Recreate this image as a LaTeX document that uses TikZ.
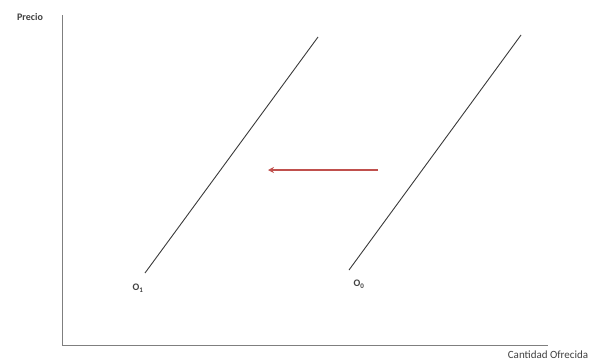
\documentclass[tikz,border=0pt]{standalone}
\usepackage{fontspec}
\setmainfont{Carlito}
\usetikzlibrary{arrows.meta}
\definecolor{caxis}{HTML}{7F7F7F}
\definecolor{ccurve}{HTML}{3A3A3A}
\definecolor{cshift}{HTML}{C0504D}
\tikzset{
  every picture/.style={line width=0.8pt},
  axis/.style={draw=caxis, line width=1pt},
  curve/.style={draw=ccurve, line width=0.9pt},
  shiftarrow/.style={-{Stealth[length=6pt, width=6pt]}, draw=cshift, line width=1.2pt},
  lab/.style={font=\fontsize{11}{13}\selectfont, text=black!75, inner sep=0pt},
  blab/.style={lab, font=\fontsize{10}{12}\selectfont\bfseries},
}
\begin{document}
\begin{tikzpicture}[x=1pt, y=-1pt]
  \useasboundingbox (0,0) rectangle (604,362);
  % axes
  \coordinate (O) at (62,345);
  \coordinate (ytop) at (62,15);
  \coordinate (xend) at (548,345);
  \draw[axis] (ytop) -- (O) -- (xend);
  \node[blab] (precio) at (30,17) {Precio};
  \node[lab] (cant) at (548,355) {Cantidad Ofrecida};
  % supply curves
  \coordinate (a1) at (145,273);
  \coordinate (b1) at (318,37);
  \coordinate (a0) at (349,270);
  \coordinate (b0) at (521,35);
  \draw[curve] (a1) -- (b1);
  \draw[curve] (a0) -- (b0);
  \node[blab] (o1) at (138,288) {O\textsubscript{1}};
  \node[blab] (o0) at (359,284) {O\textsubscript{0}};
  % shift
  \coordinate (s0) at (378,170);
  \coordinate (s1) at (268,170);
  \draw[shiftarrow] (s0) -- (s1);
\end{tikzpicture}
\end{document}
